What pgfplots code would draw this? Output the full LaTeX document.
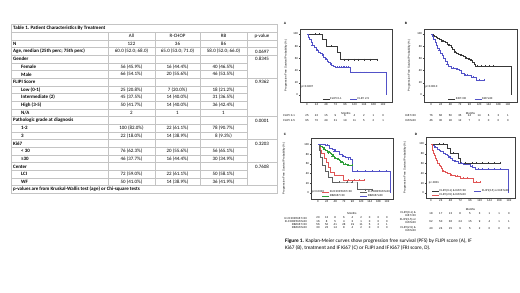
\documentclass[border=0pt]{standalone}
\usepackage{fontspec}
\setmainfont{Carlito}
\newfontfamily\kmfam{Liberation Sans}
\usepackage{pgfplots}
\pgfplotsset{compat=1.18}
\usetikzlibrary{calc}
\definecolor{kmblack}{HTML}{383838}
\definecolor{kmblue}{HTML}{5252C8}
\definecolor{kmred}{HTML}{E05555}
\definecolor{kmgreen}{HTML}{2E9E3A}
\definecolor{kmgrey}{HTML}{606060}
\definecolor{tline}{HTML}{C4C4C4}
\newcommand\tabf{\fontsize{5}{6}\selectfont}
\newcommand\kmf{\kmfam\fontsize{2.8}{3.2}\selectfont}
\pgfplotsset{
  legend image code/.code={\draw[#1, line width=0.35bp] (0bp,0bp) -- (7bp,0bp);},
  km/.style={
    scale only axis, anchor=north west, clip=false,
    axis line style={draw=black!75, line width=0.3bp},
    tick pos=left, tick align=outside, major tick length=1.2bp,
    tick style={draw=black!75, line width=0.25bp},
    xtick={0,24,...,192}, ytick={0,20,...,100},
    tick label style={font=\kmf, inner sep=0.6bp},
    /pgf/number format/assume math mode=true,
    xlabel={Months}, ylabel={Progression Free Survival Probability (\%)},
    label style={font=\kmf, inner sep=0pt},
    legend style={draw=none, fill=none, font=\kmf, inner sep=0pt, outer sep=0pt,
      nodes={inner sep=0.3bp},
      /tikz/every even column/.append style={column sep=8bp}},
    legend cell align=left,
  },
  cens/.style={only marks, mark=+, mark size=0.9bp, forget plot, mark options={line width=0.25bp}},
  kmline/.style={const plot, line width=0.35bp, mark=none},
}
\tikzset{
  tlab/.style={anchor=west, inner sep=0pt, font=\tabf\bfseries},
  tval/.style={anchor=center, inner sep=0pt, font=\tabf},
  rk/.style={inner sep=0pt, font=\kmf},
}
\newcommand\tl[3]{\node[tlab] at (#2,{263.5-7.667*#1}) {#3};}
\newcommand\tv[4]{\node[tval] at (131.5,{263.5-7.667*#1}) {#2};
  \node[tval] at (177.5,{263.5-7.667*#1}) {#3};
  \node[tval] at (223.5,{263.5-7.667*#1}) {#4};}
\newcommand\tp[2]{\node[tval] at (262,{263.5-7.667*#1}) {#2};}
\begin{document}
\begin{tikzpicture}[x=1bp,y=1bp]
\path[use as bounding box] (0,0) rectangle (520,292);
% ---------------- table ----------------
\draw[tline, line width=0.4bp] (11,267.33) rectangle (277,98.67);
\foreach \r in {0,...,20} \draw[tline, line width=0.4bp] (11,{267.33-7.667*(\r+1)}) -- (247,{267.33-7.667*(\r+1)});
\foreach \r in {0,1,2,3,6,11,14,17,20} \draw[tline, line width=0.4bp] (247,{267.33-7.667*(\r+1)}) -- (277,{267.33-7.667*(\r+1)});
\foreach \x in {108,155,200,247} \draw[tline, line width=0.4bp] (\x,259.67) -- (\x,106.33);
\tl{0}{13}{Table 1. Patient Characteristics By Treatment}
\tv{1}{All}{R-CHOP}{RB} \tp{1}{p-value}
\tl{2}{13}{N} \tv{2}{122}{36}{86}
\tl{3}{13}{Age, median (25th perc; 75th perc)} \tv{3}{60.0 (52.0; 68.0)}{65.0 (53.0; 71.0)}{58.0 (52.0; 66.0)} \tp{3}{0.0697}
\tl{4}{13}{Gender} \tp{4}{0.8345}
\tl{5}{21}{Female} \tv{5}{56 (45.9\%)}{16 (44.4\%)}{40 (46.5\%)}
\tl{6}{21}{Male} \tv{6}{66 (54.1\%)}{20 (55.6\%)}{46 (53.5\%)}
\tl{7}{13}{FLIPI Score} \tp{7}{0.9362}
\tl{8}{21}{Low (0-1)} \tv{8}{25 (20.8\%)}{7 (20.0\%)}{18 (21.2\%)}
\tl{9}{21}{Intermediate (2)} \tv{9}{45 (37.5\%)}{14 (40.0\%)}{31 (36.5\%)}
\tl{10}{21}{High (3-5)} \tv{10}{50 (41.7\%)}{14 (40.0\%)}{36 (42.4\%)}
\tl{11}{21}{N/A} \tv{11}{2}{1}{1}
\tl{12}{13}{Pathologic grade at diagnosis} \tp{12}{0.0001}
\tl{13}{21}{1-2} \tv{13}{100 (82.0\%)}{22 (61.1\%)}{78 (90.7\%)}
\tl{14}{21}{3} \tv{14}{22 (18.0\%)}{14 (38.9\%)}{8 (9.3\%)}
\tl{15}{13}{Ki67} \tp{15}{0.3203}
\tl{16}{21}{< 30} \tv{16}{76 (62.3\%)}{20 (55.6\%)}{56 (65.1\%)}
\tl{17}{21}{≥30} \tv{17}{46 (37.7\%)}{16 (44.4\%)}{30 (34.9\%)}
\tl{18}{13}{Center} \tp{18}{0.7608}
\tl{19}{21}{LCI} \tv{19}{72 (59.0\%)}{22 (61.1\%)}{50 (58.1\%)}
\tl{20}{21}{WF} \tv{20}{50 (41.0\%)}{14 (38.9\%)}{36 (41.9\%)}
\tl{21}{13}{p-values are from Kruskal-Wallis test (age) or Chi-square tests}
% ---------------- panel letters ----------------
\node[inner sep=0pt, font=\kmfam\bfseries\fontsize{3.2}{4}\selectfont] at (285,269) {A};
\node[inner sep=0pt, font=\kmfam\bfseries\fontsize{3.2}{4}\selectfont] at (406,269) {B};
\node[inner sep=0pt, font=\kmfam\bfseries\fontsize{3.2}{4}\selectfont] at (285,158) {C};
\node[inner sep=0pt, font=\kmfam\bfseries\fontsize{3.2}{4}\selectfont] at (416,158) {D};
% ---------------- A ----------------
\begin{axis}[km, at={(300bp,263bp)}, width=92bp, height=73bp,
  xmin=-17.7, xmax=214.7, ymin=-11.5, ymax=108.2,
  xlabel style={at={(axis description cs:0.5,-0.151)}, anchor=center},
  ylabel style={at={(axis description cs:-0.152,0.5)}, anchor=center},
  legend columns=2, legend style={at={(axis description cs:0.5,0.012)}, anchor=south}]
\addplot[kmline, kmblack] coordinates {(0,100)(38,92)(48,80)(75,70)(83,58)(178,58)};
\addlegendentry{FLIPI 0-1}
\addplot[kmline, kmblue] coordinates {(0,100)(3,95)(6,91)(10,87)(14,82)(18,78)(23,74)(28,71)(33,68)(38,65)(42,62)(46,59)(50,56)(54,53)(58,51)(62,49)(66,47)(70,45.5)(108,45.5)(110,37)(200,37)(200,0)};
\addlegendentry{FLIPI 2-5}
\addplot[cens, kmblack] coordinates {(20,100)(30,100)(60,80)(95,58)(105,58)(118,58)(130,58)(145,58)(160,58)(178,58)};
\addplot[cens, kmblue] coordinates {(12,82)(25,74)(40,65)(48,59)(60,51)(75,45.5)(80,45.5)(85,45.5)(90,45.5)(95,45.5)(100,45.5)(105,45.5)(115,37)(125,37)(135,37)(145,37)(150,37)};
\node[anchor=west, font=\kmf, inner sep=0pt] at (axis description cs:0.015,0.205) {p=0.0207};
\coordinate (A0) at (axis cs:0,0);
\coordinate (A24) at (axis cs:24,0);
\end{axis}
\node[rk, anchor=east] at (295,176) {FLIPI 0-1};
\node[rk, anchor=east] at (295,171) {FLIPI 2-5};
\foreach \v [count=\i from 0] in {25,22,15,9,6,4,2,1,0} \node[rk] at ($(A0)!\i!(A24)+(0,-21)$) {\v};
\foreach \v [count=\i from 0] in {95,70,49,31,19,11,5,2,1} \node[rk] at ($(A0)!\i!(A24)+(0,-26)$) {\v};
% ---------------- B ----------------
\begin{axis}[km, at={(424bp,263bp)}, width=93bp, height=73bp,
  xmin=-17.7, xmax=214.7, ymin=-11.5, ymax=108.2,
  xlabel style={at={(axis description cs:0.5,-0.151)}, anchor=center},
  ylabel style={at={(axis description cs:-0.161,0.5)}, anchor=center},
  legend columns=2, legend style={at={(axis description cs:0.5,0.012)}, anchor=south}]
\addplot[kmline, kmblack] coordinates {(0,100)(4,98)(8,96)(12,95)(16,93)(20,92)(25,90)(30,88)(35,86)(40,84)(45,82)(49,78)(53,75)(57,71)(62,69)(68,67)(74,65)(80,63)(86,61)(92,59)(98,57)(103,54)(107,51)(111,48)(201,48)(201,0)};
\addlegendentry{Ki67<30}
\addplot[kmline, kmblue] coordinates {(0,100)(3,96)(6,91)(9,87)(12,82)(15,77)(19,73)(23,69)(27,65)(31,61)(35,56)(39,51)(43,47)(50,44)(62,42)(70,40)(76,35)(82,33)(100,30)(112,25)(133,25)};
\addlegendentry{Ki67≥30}
\addplot[cens, kmblack] coordinates {(28,88)(45,82)(60,71)(75,65)(88,61)(95,59)(100,57)(115,48)(125,48)(135,48)(145,48)(154,48)};
\addplot[cens, kmblue] coordinates {(20,73)(40,51)(55,44)(65,42)(85,33)(90,33)(105,30)(120,25)(133,25)};
\node[anchor=west, font=\kmf, inner sep=0pt] at (axis description cs:0.015,0.205) {p=0.0010};
\coordinate (B0) at (axis cs:0,0);
\coordinate (B24) at (axis cs:24,0);
\end{axis}
\node[rk, anchor=east] at (416,176) {Ki67<30};
\node[rk, anchor=east] at (416,171) {Ki67≥30};
\foreach \v [count=\i from 0] in {76,66,50,35,24,14,6,3,1} \node[rk] at ($(B0)!\i!(B24)+(0,-21)$) {\v};
\foreach \v [count=\i from 0] in {46,30,18,12,7,3,0,0,0} \node[rk] at ($(B0)!\i!(B24)+(0,-26)$) {\v};
% ---------------- C ----------------
\begin{axis}[km, at={(311bp,154bp)}, width=82bp, height=61bp,
  xmin=-19.5, xmax=208.7, ymin=-12.3, ymax=113,
  xlabel style={at={(axis description cs:0.5,-0.23)}, anchor=center},
  ylabel style={at={(axis description cs:-0.33,0.5)}, anchor=center},
  legend columns=2, legend style={at={(axis description cs:0.55,0.015)}, anchor=south}]
\addplot[kmline, kmred] coordinates {(0,100)(5,88)(9,81)(16,71)(22,64)(28,53)(34,43)(44,36)(70,26)(127,26)};
\addlegendentry{R-CHOP/Ki67<30}
\addplot[kmline, kmgrey] coordinates {(0,100)(3,88)(6,74)(11,57)(19,45)(28,33)(39,23)(108,23)(110,7)(150,7)};
\addlegendentry{R-CHOP/Ki67≥30}
\addplot[kmline, kmgreen] coordinates {(0,100)(6,97)(11,94)(16,91)(20,88)(25,86)(30,83)(34,81)(37,79)(41,76)(44,74)(49,72)(53,70)(58,68)(62,66)(67,63)(71,60)(81,58)(95,58)};
\addlegendentry{RB/Ki67<30}
\addplot[kmline, kmblue] coordinates {(0,100)(20,98)(30,92)(39,90)(48,86)(58,79)(67,76)(76,74)(90,70)(95,45)(201,45)(201,0)};
\addlegendentry{RB/Ki67≥30}
\addplot[cens, kmred] coordinates {(50,36)(60,36)(85,26)(100,26)(115,26)(127,26)};
\addplot[cens, kmgrey] coordinates {(60,23)(80,23)(95,23)(130,7)(150,7)};
\addplot[cens, kmgreen] coordinates {(15,91)(28,83)(40,76)(48,72)(55,70)(65,63)(75,60)(85,58)(95,58)};
\addplot[cens, kmblue] coordinates {(25,98)(45,86)(70,76)(85,70)(110,45)(130,45)(150,45)(170,45)(190,45)};
\node[anchor=west, font=\kmf, inner sep=0pt] at (axis description cs:0.012,0.115) {p=0.0003};
\coordinate (C0) at (axis cs:0,0);
\coordinate (C24) at (axis cs:24,0);
\end{axis}
\node[rk, anchor=east] at (307,74) {R-CHOP/Ki67<30};
\node[rk, anchor=east] at (307,70.8) {R-CHOP/Ki67≥30};
\node[rk, anchor=east] at (307,67.6) {RB/Ki67<30};
\node[rk, anchor=east] at (307,64.4) {RB/Ki67≥30};
\foreach \v [count=\i from 0] in {20,13,8,6,4,2,0,0,0} \node[rk] at ($(C0)!\i!(C24)+(0,-25)$) {\v};
\foreach \v [count=\i from 0] in {16,8,5,4,3,1,0,0,0} \node[rk] at ($(C0)!\i!(C24)+(0,-28.2)$) {\v};
\foreach \v [count=\i from 0] in {56,52,41,28,19,11,5,2,1} \node[rk] at ($(C0)!\i!(C24)+(0,-31.4)$) {\v};
\foreach \v [count=\i from 0] in {30,23,14,8,4,2,0,0,0} \node[rk] at ($(C0)!\i!(C24)+(0,-34.6)$) {\v};
% ---------------- D ----------------
\begin{axis}[km, at={(426bp,155bp)}, width=89bp, height=61bp,
  xmin=-12.3, xmax=206.8, ymin=-10.2, ymax=114,
  xlabel style={at={(axis description cs:0.5,-0.19)}, anchor=center},
  ylabel style={at={(axis description cs:-0.236,0.5)}, anchor=center},
  legend columns=2, legend style={at={(axis description cs:0.5,0.015)}, anchor=south}]
\addplot[kmline, kmblack] coordinates {(0,100)(41,91)(47,81)(68,71)(73,61.5)(169,61.5)};
\addlegendentry{FLIPI(0-1) \& Ki67<30}
\addplot[kmline, kmblue] coordinates {(0,100)(4,98)(7,96)(11,93)(15,90)(19,87)(23,84.5)(31,82)(35,80)(39,78)(43,74)(47,71)(53,67)(59,64)(68,61)(80,58)(96,55)(102,52)(108,49)(190,49)(190,0)};
\addlegendentry{FLIPI(2-5) or Ki67≥30}
\addplot[kmline, kmred] coordinates {(0,100)(2,93)(4,87)(6,81)(8,76)(11,71)(13,66)(16,61)(19,57)(22,54)(24,51)(28,47)(31,44)(35,42)(39,40.5)(47,37)(59,34)(72,30)(104,22)(120,22)};
\addlegendentry{FLIPI(2-5) \& Ki67≥30}
\addplot[cens, kmblack] coordinates {(20,100)(30,100)(55,81)(85,61.5)(100,61.5)(110,61.5)(125,61.5)(140,61.5)(155,61.5)(169,61.5)};
\addplot[cens, kmblue] coordinates {(10,93)(25,84.5)(45,74)(60,64)(75,61)(90,58)(100,55)(115,49)(125,49)(140,49)(155,49)(170,49)};
\addplot[cens, kmred] coordinates {(30,44)(50,37)(65,34)(80,30)(90,30)(110,22)(120,22)};
\node[anchor=west, font=\kmf, inner sep=0pt] at (axis description cs:0.03,0.246) {p<.0001};
\coordinate (D0) at (axis cs:0,0);
\coordinate (D24) at (axis cs:24,0);
\end{axis}
\node[rk, anchor=east, align=right] at (416,78.3) {FLIPI(0-1) \&\\Ki67<30};
\node[rk, anchor=east, align=right] at (416,70.7) {FLIPI(2-5) or\\Ki67≥30};
\node[rk, anchor=east, align=right] at (416,63) {FLIPI(2-5) \&\\Ki67≥30};
\foreach \v [count=\i from 0] in {18,17,13,8,5,3,1,1,0} \node[rk] at ($(D0)!\i!(D24)+(0,-20.7)$) {\v};
\foreach \v [count=\i from 0] in {62,50,36,24,15,9,4,1,1} \node[rk] at ($(D0)!\i!(D24)+(0,-28.3)$) {\v};
\foreach \v [count=\i from 0] in {40,24,15,9,5,2,0,0,0} \node[rk] at ($(D0)!\i!(D24)+(0,-36)$) {\v};
% ---------------- caption ----------------
\node[anchor=west, inner sep=0pt, font=\fontsize{5.3}{6}\selectfont] at (285,51) {\textbf{Figure 1.} Kaplan-Meier curves show progression free survival (PFS) by FLIPI score (A), IF};
\node[anchor=west, inner sep=0pt, font=\fontsize{5.3}{6}\selectfont] at (285,44) {Ki67 (B), treatment and IF Ki67 (C) or FLIPI and IF Ki67 (FRI score, D).};
\end{tikzpicture}
\end{document}
